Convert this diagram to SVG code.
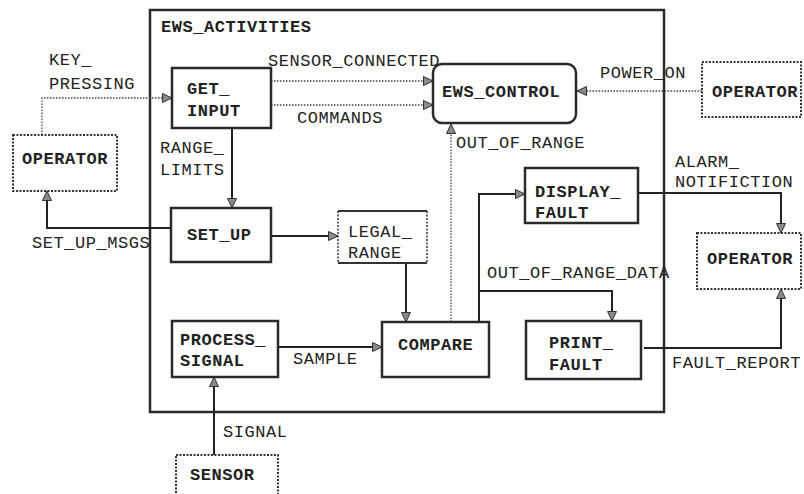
<svg xmlns="http://www.w3.org/2000/svg" width="804" height="494" viewBox="0 0 804 494">
<defs>
<marker id="arr" markerUnits="userSpaceOnUse" markerWidth="12" markerHeight="11" refX="10" refY="5" orient="auto">
<path d="M0.5,0.5 L10,5 L0.5,9.5 z" fill="#8a8a8a" stroke="#333" stroke-width="1"/>
</marker>
</defs>
<style>
text{font-family:"Liberation Mono","Courier New",monospace;font-size:17px;letter-spacing:0.55px;fill:#222}
.b{font-weight:bold}
.box{fill:#fff;stroke:#2a2a2a;stroke-width:2.5}
.dbox{fill:#fff;stroke:#333;stroke-width:2;stroke-dasharray:2 1.5}
.s{fill:none;stroke:#222;stroke-width:2}
.d{fill:none;stroke:#444;stroke-width:1.3;stroke-dasharray:1.5 1.5}
</style>
<rect width="804" height="494" fill="#fff"/>
<g id="ews_activities">
<rect x="150" y="10" width="514" height="402" fill="none" stroke="#2a2a2a" stroke-width="2.5"/>
<text class="b" x="161" y="32">EWS_ACTIVITIES</text>
</g>
<g id="connectors">
<path class="d" d="M42,135 V98 H172" marker-end="url(#arr)"/>
<path class="d" d="M271,81 H433" marker-end="url(#arr)"/>
<path class="d" d="M271,105 H433" marker-end="url(#arr)"/>
<path class="d" d="M702,91 H577" marker-end="url(#arr)"/>
<path class="s" d="M232,128 V208" marker-end="url(#arr)"/>
<path class="s" d="M171,228 H47 V191" marker-end="url(#arr)"/>
<path class="s" d="M271,236 H338" marker-end="url(#arr)"/>
<path class="s" d="M406,263 V322" marker-end="url(#arr)"/>
<path class="s" d="M278,347 H382" marker-end="url(#arr)"/>
<path class="s" d="M214,455 V377" marker-end="url(#arr)"/>
<path class="d" d="M451,322 V124" marker-end="url(#arr)"/>
<path class="s" d="M479,322 V194 H525" marker-end="url(#arr)"/>
<path class="s" d="M479,291 H612 V321" marker-end="url(#arr)"/>
<path class="s" d="M638,193 H781 V233" marker-end="url(#arr)"/>
<path class="s" d="M644,348 H781 V289" marker-end="url(#arr)"/>
<text x="49" y="65">KEY_</text>
<text x="49" y="89">PRESSING</text>
<text x="268" y="66">SENSOR_CONNECTED</text>
<text x="297" y="123">COMMANDS</text>
<text x="600" y="78">POWER_ON</text>
<text x="160" y="153">RANGE_</text>
<text x="160" y="175">LIMITS</text>
<text x="32" y="248">SET_UP_MSGS</text>
<text x="293" y="364">SAMPLE</text>
<text x="223" y="437">SIGNAL</text>
<text x="456" y="148">OUT_OF_RANGE</text>
<text x="487" y="278">OUT_OF_RANGE_DATA</text>
<text x="675" y="167">ALARM_</text>
<text x="675" y="187">NOTIFICTION</text>
<text x="672" y="368">FAULT_REPORT</text>
</g>
<g id="get_input">
<rect class="box" x="172" y="68" width="99" height="60"/>
<text class="b" x="187" y="94">GET_</text>
<text class="b" x="187" y="116">INPUT</text>
</g>
<g id="ews_control">
<rect class="box" x="433" y="64" width="143" height="59" rx="9"/>
<text class="b" x="442" y="97">EWS_CONTROL</text>
</g>
<g id="operator_top">
<rect class="dbox" x="702" y="62" width="99" height="55"/>
<text class="b" x="712" y="97">OPERATOR</text>
</g>
<g id="operator_left">
<rect class="dbox" x="13" y="135" width="104" height="56"/>
<text class="b" x="22" y="164">OPERATOR</text>
</g>
<g id="set_up">
<rect class="box" x="171" y="208" width="100" height="54"/>
<text class="b" x="187" y="240">SET_UP</text>
</g>
<g id="legal_range">
<rect x="338" y="211" width="89" height="52" fill="#fff"/>
<path d="M338,211 H427 M338,263 H427" stroke="#333" stroke-width="2.2" fill="none"/>
<path d="M338,211 V263 M427,211 V263" stroke="#333" stroke-width="1.5" stroke-dasharray="2 1.5" fill="none"/>
<text x="348" y="237">LEGAL_</text>
<text x="348" y="258">RANGE</text>
</g>
<g id="display_fault">
<rect class="box" x="525" y="168" width="113" height="55"/>
<text class="b" x="535" y="197">DISPLAY_</text>
<text class="b" x="535" y="218">FAULT</text>
</g>
<g id="operator_mid">
<rect class="dbox" x="697" y="233" width="104" height="56"/>
<text class="b" x="707" y="264">OPERATOR</text>
</g>
<g id="process_signal">
<rect class="box" x="172" y="321" width="106" height="56"/>
<text class="b" x="180" y="345">PROCESS_</text>
<text class="b" x="180" y="366">SIGNAL</text>
</g>
<g id="compare">
<rect class="box" x="382" y="322" width="107" height="55"/>
<text class="b" x="398" y="350">COMPARE</text>
</g>
<g id="print_fault">
<rect class="box" x="526" y="321" width="115" height="58"/>
<text class="b" x="549" y="348">PRINT_</text>
<text class="b" x="549" y="370">FAULT</text>
</g>
<g id="sensor">
<rect class="dbox" x="176" y="455" width="102" height="50"/>
<text class="b" x="190" y="480">SENSOR</text>
</g>
</svg>
